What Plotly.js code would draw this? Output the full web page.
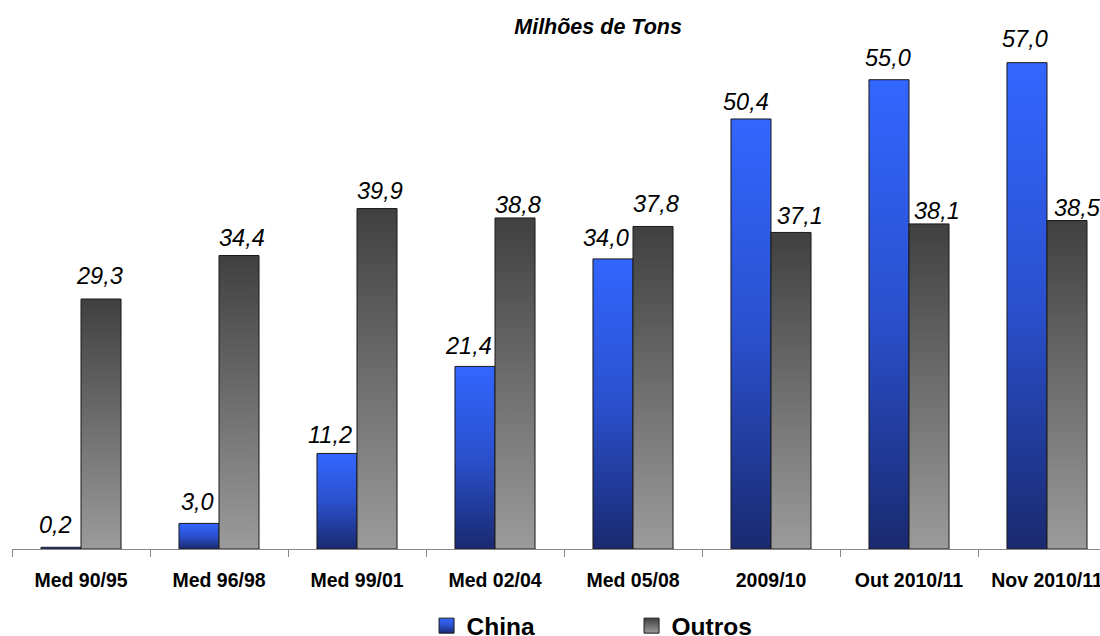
<!DOCTYPE html>
<html>
<head>
<meta charset="utf-8">
<script src="https://cdn.plot.ly/plotly-3.0.1.min.js"></script>
<style>
html,body{margin:0;padding:0;overflow:hidden;background:#fff;}
#chart{width:1120px;height:636px;}
</style>
</head>
<body>
<svg width="0" height="0" style="position:absolute">
  <defs>
    <linearGradient id="gChina" x1="0" y1="0" x2="0" y2="1">
      <stop offset="0" stop-color="#3366ff"/>
      <stop offset="0.5" stop-color="#2a50cd"/>
      <stop offset="1" stop-color="#1a2a70"/>
    </linearGradient>
    <linearGradient id="gOutros" x1="0" y1="0" x2="0" y2="1">
      <stop offset="0" stop-color="#404040"/>
      <stop offset="0.5" stop-color="#6e6e6e"/>
      <stop offset="1" stop-color="#9b9b9b"/>
    </linearGradient>
  </defs>
</svg>
<div id="chart"></div>
<script>
const categories = ['Med 90/95','Med 96/98','Med 99/01','Med 02/04','Med 05/08','2009/10','Out 2010/11','Nov 2010/11'];
const china = [0.2, 3.0, 11.2, 21.4, 34.0, 50.4, 55.0, 57.0];
const outros = [29.3, 34.4, 39.9, 38.8, 37.8, 37.1, 38.1, 38.5];
const seriesNames = ['China','Outros'];

// small pixel nudges of the value labels (style only)
const chinaLabelDx = [-5, -1.5, -6.7, -6, -6.7, -5, -1, -1.5];
const chinaLabelDy = [-0.3, -2, -5, -2.6, -2, -6, -1.3, 0.4];
const outrosLabelDx = [-1.5, 3.4, 2.8, 3, 2.7, 8.8, 7.9, 10];
const outrosLabelDy = [0, -5.7, -5.3, -9.9, -0.9, -7, -10, -10.3];

const FONT = 'Liberation Sans, Arial, sans-serif';
const BW = 0.29;
const W = 1120, ML = 12, MR = 4;
const catPx = (W - ML - MR) / categories.length;

function fmt(v){return v.toFixed(1).replace('.',',');}

const traces=[];
const annotations=[];
function addSeries(name, vals, color, offset, rank, dx, dy){
  traces.push({
    type:'bar', name:name, x:categories, y:vals, offset:offset, width:BW,
    marker:{color:color, line:{color:'#1a1a1a',width:1}},
    showlegend:false, hoverinfo:'skip'
  });
  traces.push({type:'scatter', mode:'markers', name:name, x:categories, y:categories.map(()=>null),
    marker:{symbol:'square', size:15, color:color, line:{color:'#1a1a1a',width:1}}, legendrank:rank, hoverinfo:'skip'});
  vals.forEach((v,i)=>{
    annotations.push({
      x:categories[i], y:v, xref:'x', yref:'y', text:fmt(v), showarrow:false,
      xanchor:'center', yanchor:'bottom', xshift:(offset + BW/2)*catPx + dx[i], yshift:8 + dy[i],
      font:{family:FONT,size:23.5,color:'#000',style:'italic'}
    });
  });
}
addSeries(seriesNames[0], china, '#2a50cd', -BW, 1, chinaLabelDx, chinaLabelDy);
addSeries(seriesNames[1], outros, '#6e6e6e', 0, 2, outrosLabelDx, outrosLabelDy);

const layout={
  width:W, height:636,
  margin:{l:ML,r:MR,t:20,b:86.5,autoexpand:false},
  paper_bgcolor:'#fff', plot_bgcolor:'#fff',
  barmode:'overlay',
  font:{family:FONT,color:'#000'},
  title:{text:'Milhões de Tons', xref:'container', x:0.534, xanchor:'center', yref:'container', y:0.958, yanchor:'middle',
    font:{family:FONT,size:21.5,weight:'bold',style:'italic',color:'#000'}},
  xaxis:{type:'category', range:[-0.5,7.5], showline:true, linecolor:'#888', linewidth:1,
    ticks:'outside', tickson:'boundaries', ticklen:7, tickcolor:'#888', tickwidth:1,
    showgrid:false, zeroline:false, automargin:false, ticklabelstandoff:14,
    tickfont:{family:FONT,size:19.5,weight:'bold',color:'#000'}, fixedrange:true},
  yaxis:{visible:false, range:[0,62.0], showgrid:false, zeroline:false, fixedrange:true},
  annotations:annotations,
  showlegend:true,
  legend:{orientation:'h', x:0.3755, xanchor:'left', y:-0.145, yanchor:'middle',
    entrywidth:160, entrywidthmode:'pixels',
    font:{family:FONT,size:24.5,weight:'bold',color:'#000'}, bgcolor:'rgba(0,0,0,0)'}
};

function applyGradients(){
  const gd=document.getElementById('chart');
  const ids=['gChina','gOutros'];
  gd.querySelectorAll('.barlayer .trace.bars').forEach((g,i)=>{
    g.querySelectorAll('path').forEach(p=>{ p.style.fill='url(#'+ids[i]+')'; p.style.fillOpacity=1; });
  });
  gd.querySelectorAll('.legend .traces').forEach((g,i)=>{
    g.querySelectorAll('path.scatterpts').forEach(p=>{ p.style.fill='url(#'+ids[i]+')'; p.style.fillOpacity=1; });
  });
}
Plotly.newPlot('chart', traces, layout, {displayModeBar:false, staticPlot:true}).then(applyGradients);
</script>
</body>
</html>
